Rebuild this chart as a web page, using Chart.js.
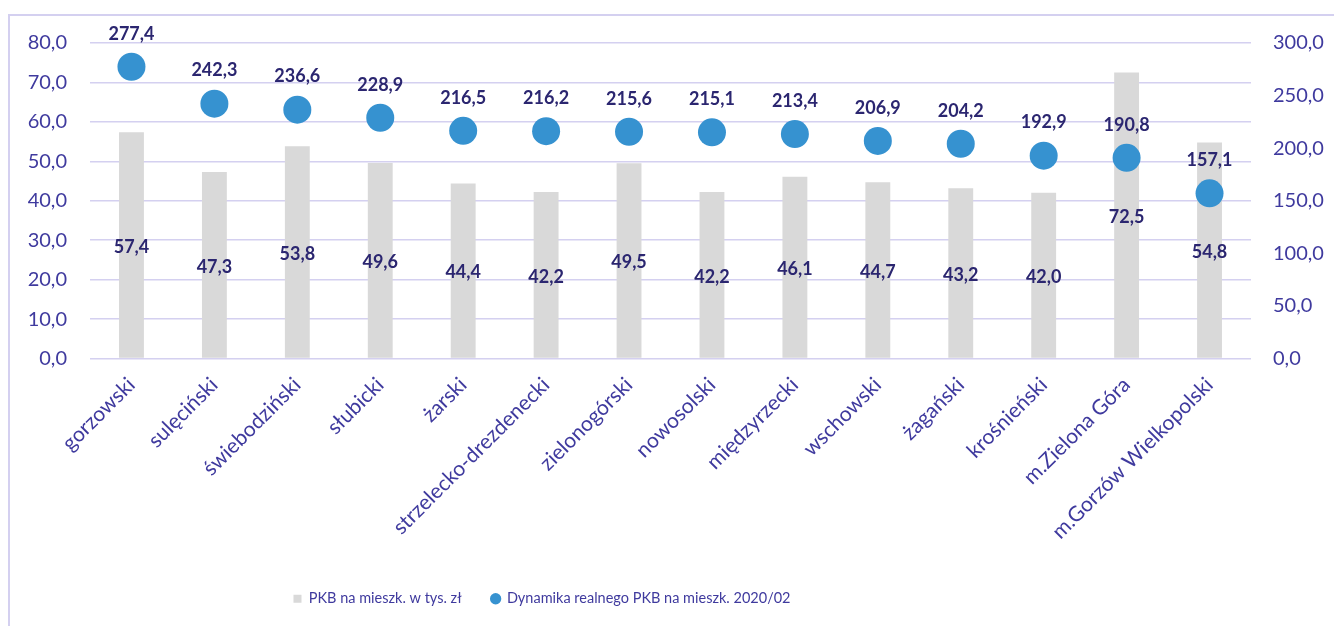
<!DOCTYPE html>
<html>
<head>
<meta charset="utf-8">
<script src="https://cdn.jsdelivr.net/npm/chart.js@4/dist/chart.umd.min.js"></script>
<style>
  body { margin: 0; background: #fff; }
  .wrap { position: relative; width: 1334px; height: 626px; overflow: hidden; }
  .frame { position: absolute; left: 8px; top: 14px; width: 1400px; height: 700px; border: 2px solid #d4d0f0; }
  canvas { position: absolute; left: 0; top: 0; }
</style>
</head>
<body>
<div class="wrap">
  <div class="frame"></div>
  <canvas id="chart" width="1334" height="626"></canvas>
</div>
<script>
const powiaty = ['gorzowski', 'sulęciński', 'świebodziński', 'słubicki', 'żarski', 'strzelecko-drezdenecki',
  'zielonogórski', 'nowosolski', 'międzyrzecki', 'wschowski', 'żagański', 'krośnieński', 'm.Zielona Góra', 'm.Gorzów Wielkopolski']
const pkbNaMieszk = [57.4, 47.3, 53.8, 49.6, 44.4, 42.2, 49.5, 42.2, 46.1, 44.7, 43.2, 42.0, 72.5, 54.8]
const dynamika = [277.4, 242.3, 236.6, 228.9, 216.5, 216.2, 215.6, 215.1, 213.4, 206.9, 204.2, 192.9, 190.8, 157.1]
const leftTicks = [0, 80, 10]
const rightTicks = [0, 300, 50]

const tickColor = '#3f3a9e'
const labelColor = '#2b2670'
const gridColor = '#d4d0f0'
const fmt = v => Number(v).toFixed(1).replace('.', ',')

const valueLabels = {
  id: 'valueLabels',
  afterDatasetsDraw(chart) {
    const ctx = chart.ctx
    ctx.save()
    ctx.font = 'bold 18px Lato'
    ctx.fillStyle = labelColor
    ctx.textAlign = 'center'
    ctx.textBaseline = 'middle'
    chart.getDatasetMeta(0).data.forEach((bar, i) => {
      ctx.fillText(fmt(pkbNaMieszk[i]), bar.x, (bar.y + bar.base) / 2 + 2)
    })
    chart.getDatasetMeta(1).data.forEach((pt, i) => {
      ctx.fillText(fmt(dynamika[i]), pt.x, pt.y - 33)
    })
    ctx.restore()
  }
}

// the legend in the original sits left of centre
const legendShift = {
  id: 'legendShift',
  afterLayout(chart) {
    chart.legend.left = 0
    chart.legend.right = 1084
  }
}

new Chart(document.getElementById('chart'), {
  data: {
    labels: powiaty,
    datasets: [{
      type: 'bar',
      label: 'PKB na mieszk. w tys. zł',
      data: pkbNaMieszk,
      backgroundColor: '#d9d9d9',
      barPercentage: 0.6,
      categoryPercentage: 0.5,
      yAxisID: 'y',
      order: 2,
      pointStyle: 'rect'
    }, {
      type: 'line',
      label: 'Dynamika realnego PKB na mieszk. 2020/02',
      data: dynamika,
      showLine: false,
      pointRadius: 14,
      pointHoverRadius: 14,
      pointBackgroundColor: '#3692d0',
      pointBorderWidth: 0,
      backgroundColor: '#3692d0',
      borderColor: '#3692d0',
      yAxisID: 'y1',
      order: 1,
      pointStyle: 'circle'
    }]
  },
  options: {
    responsive: false,
    animation: false,
    layout: { padding: { left: 0, right: 0, top: 43, bottom: 10 } },
    plugins: {
      tooltip: { enabled: false },
      legend: {
        position: 'bottom',
        labels: {
          usePointStyle: true,
          boxWidth: 8,
          boxHeight: 8,
          padding: 30,
          color: tickColor,
          font: { family: 'Lato', size: 14.5 },
          sort: (a, b) => a.datasetIndex - b.datasetIndex
        }
      }
    },
    scales: {
      x: {
        grid: { display: false },
        border: { display: false },
        ticks: {
          color: tickColor,
          font: { family: 'Lato', size: 21 },
          minRotation: 45,
          maxRotation: 45,
          padding: 6
        },
        afterFit(scale) { scale.height = 203 }
      },
      y: {
        position: 'left',
        min: leftTicks[0], max: leftTicks[1],
        grid: { color: gridColor, lineWidth: 1.5, drawTicks: false },
        border: { display: false },
        ticks: { stepSize: leftTicks[2], color: tickColor, font: { family: 'Lato', size: 20 }, padding: 23, callback: fmt },
        afterFit(scale) { scale.width = 90 }
      },
      y1: {
        position: 'right',
        min: rightTicks[0], max: rightTicks[1],
        grid: { display: false },
        border: { display: false },
        ticks: { stepSize: rightTicks[2], color: tickColor, font: { family: 'Lato', size: 20 }, padding: 14, callback: fmt },
        afterFit(scale) { scale.width = 83 }
      }
    }
  },
  plugins: [valueLabels, legendShift]
})
</script>
</body>
</html>
